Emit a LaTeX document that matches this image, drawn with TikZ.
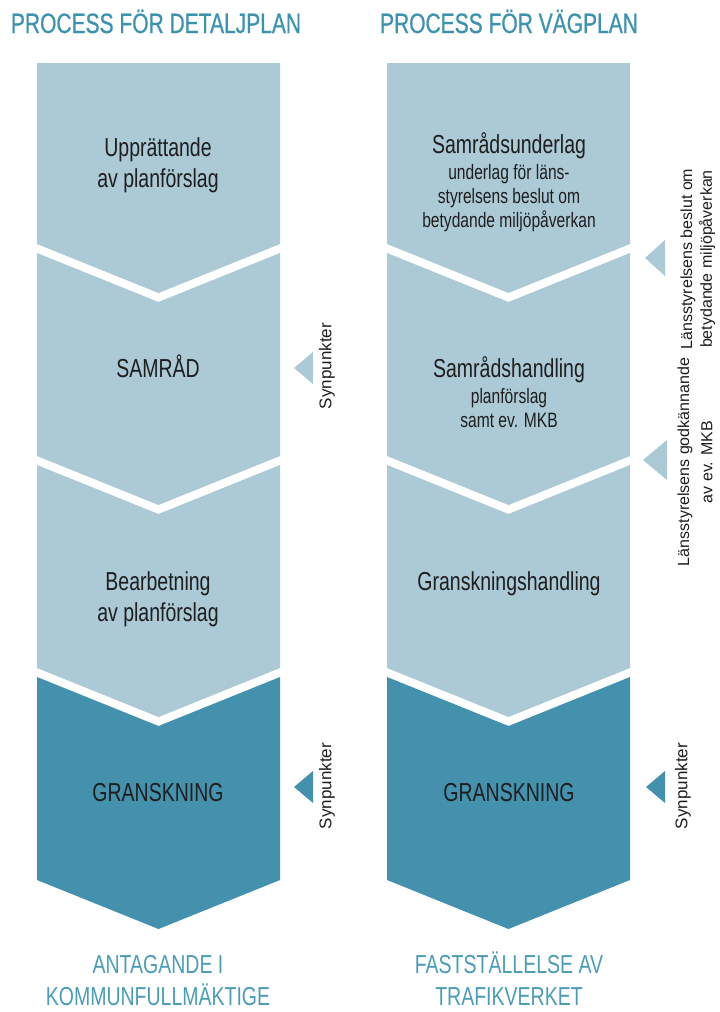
\documentclass[tikz,border=0pt]{standalone}
\usepackage{fontspec}
\newfontfamily\condfont[FakeStretch=0.75]{Liberation Sans}
\newfontfamily\subfont[FakeStretch=0.75]{Liberation Sans}
\newfontfamily\headfont[FakeStretch=0.75,FakeBold=0.6]{Liberation Sans}
\newfontfamily\plainfont{Liberation Sans}

\definecolor{seglight}{HTML}{ABCAD6}
\definecolor{segdark}{HTML}{4391AC}
\definecolor{headteal}{HTML}{3C93B0}
\definecolor{endteal}{HTML}{4A9DB8}
\definecolor{txtdark}{HTML}{1E1E1E}

% one chevron segment of a column: left x, right x, top y, bottom y, fill, flat top?
\newcommand\chevseg[6]{%
  \pgfmathsetmacro\midx{(#1+#2)/2}%
  \ifx#6t
    \fill[#5] (#1,#3) -- (#2,#3) -- (#2,#4) -- (\midx,#4+49) -- (#1,#4) -- cycle;
  \else
    \fill[#5] (#1,#3) -- (\midx,#3+49) -- (#2,#3) -- (#2,#4) -- (\midx,#4+49) -- (#1,#4) -- cycle;
  \fi}

\tikzset{
  boxtext/.style={font=\condfont\fontsize{26}{31}\selectfont, text=txtdark, anchor=base, inner sep=0pt},
  subtext/.style={font=\subfont\fontsize{20.8}{24}\selectfont, text=txtdark, anchor=base, inner sep=0pt},
  headtext/.style={font=\headfont\fontsize{28}{32}\selectfont, text=headteal, anchor=base, inner sep=0pt},
  endtext/.style={font=\condfont\fontsize{26}{31}\selectfont, text=endteal, anchor=base, inner sep=0pt},
  sidetext/.style={font=\plainfont\fontsize{16}{19}\selectfont, text=txtdark, rotate=90, anchor=center, inner sep=0pt},
  synlabel/.style={sidetext, font=\plainfont\fontsize{17}{20}\selectfont},
}

\begin{document}
\begin{tikzpicture}[x=1pt,y=-1pt]
\fill[white] (0,0) rectangle (720,1012);
\useasboundingbox (0,0) rectangle (720,1012);

% headings
\node[headtext] (hdL) at (156,33) {PROCESS FÖR DETALJPLAN};
\node[headtext] (hdR) at (509,33) {PROCESS FÖR VÄGPLAN};

% left column: detaljplan
\chevseg{37}{280}{63}{244}{seglight}{t}
\chevseg{37}{280}{253}{456}{seglight}{c}
\chevseg{37}{280}{465}{668}{seglight}{c}
\chevseg{37}{280}{677}{880}{segdark}{c}

% right column: vägplan
\chevseg{387}{630}{63}{244}{seglight}{t}
\chevseg{387}{630}{253}{456}{seglight}{c}
\chevseg{387}{630}{465}{668}{seglight}{c}
\chevseg{387}{630}{677}{880}{segdark}{c}

% texts in the left column
\node[boxtext] (l1a) at (158,156) {Upprättande};
\node[boxtext] (l1b) at (158,187) {av planförslag};
\node[boxtext] (l2) at (158,377) {SAMRÅD};
\node[boxtext] (l3a) at (158,590) {Bearbetning};
\node[boxtext] (l3b) at (158,621) {av planförslag};
\node[boxtext] (l4) at (158,801) {GRANSKNING};

% texts in the right column
\node[boxtext] (r1a) at (509,153) {Samrådsunderlag};
\node[subtext] (r1b) at (509,179) {underlag för läns-};
\node[subtext] (r1c) at (509,203) {styrelsens beslut om};
\node[subtext] (r1d) at (509,227) {betydande miljöpåverkan};
\node[boxtext] (r2a) at (509,377) {Samrådshandling};
\node[subtext] (r2b) at (509,403) {planförslag};
\node[subtext] (r2c) at (509,427) {samt ev. MKB};
\node[boxtext] (r3) at (509,590) {Granskningshandling};
\node[boxtext] (r4) at (509,801) {GRANSKNING};

% outcomes
\node[endtext] (eL1) at (158,973) {ANTAGANDE I};
\node[endtext] (eL2) at (158,1005) {KOMMUNFULLMÄKTIGE};
\node[endtext] (eR1) at (509,973) {FASTSTÄLLELSE AV};
\node[endtext] (eR2) at (509,1005) {TRAFIKVERKET};

% input markers beside the columns
\fill[seglight] (294,368) -- (313,352) -- (313,384) -- cycle;
\fill[segdark]  (294,787) -- (313,771) -- (313,803) -- cycle;
\fill[seglight] (645,258) -- (665,240) -- (665,276) -- cycle;
\fill[seglight] (643,460) -- (667,440) -- (667,480) -- cycle;
\fill[segdark]  (646,787) -- (665,771) -- (665,803) -- cycle;

% side labels
\node[synlabel] (sL2) at (327,366) {Synpunkter};
\node[synlabel] (sL4) at (327,786) {Synpunkter};
\node[sidetext] (sR1a) at (688,259) {Länsstyrelsens beslut om};
\node[sidetext] (sR1b) at (707,259) {betydande miljöpåverkan};
\node[sidetext] (sR2a) at (685,462) {Länsstyrelsens godkännande};
\node[sidetext] (sR2b) at (707,462) {av ev. MKB};
\node[synlabel] (sR4) at (683,786) {Synpunkter};
\end{tikzpicture}
\end{document}
